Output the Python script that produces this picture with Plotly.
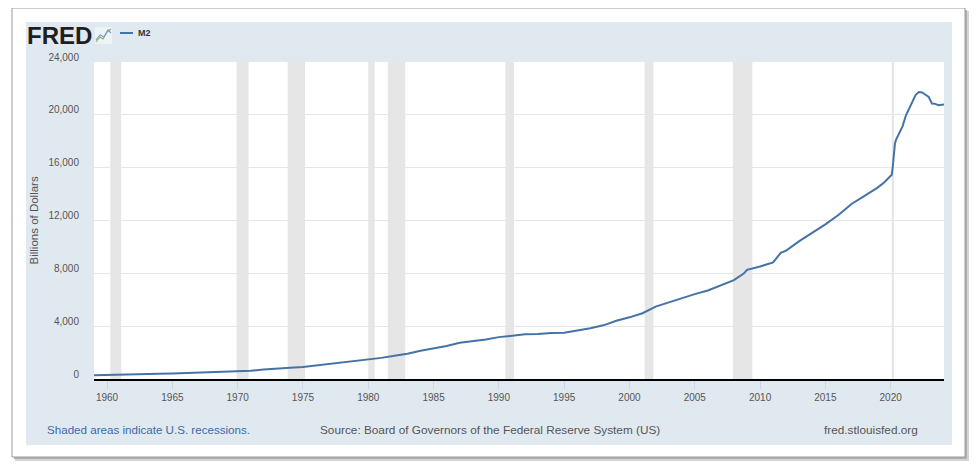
import plotly.graph_objects as go

# M2 money stock, billions of dollars
dates = [
    "1959-01-01", "1960-01-01", "1961-01-01", "1962-01-01", "1963-01-01",
    "1964-01-01", "1965-01-01", "1966-01-01", "1967-01-01", "1968-01-01",
    "1969-01-01", "1970-01-01", "1971-01-01", "1972-01-01", "1973-01-01",
    "1974-01-01", "1975-01-01", "1976-01-01", "1977-01-01", "1978-01-01",
    "1979-01-01", "1980-01-01", "1981-01-01", "1982-01-01", "1983-01-01",
    "1984-01-01", "1985-01-01", "1986-01-01", "1987-01-01", "1988-01-01",
    "1989-01-01", "1990-01-01", "1991-01-01", "1992-01-01", "1993-01-01",
    "1994-01-01", "1995-01-01", "1996-01-01", "1997-01-01", "1998-01-01",
    "1999-01-01", "2000-01-01", "2001-01-01", "2002-01-01", "2003-01-01",
    "2004-01-01", "2005-01-01", "2006-01-01", "2007-01-01", "2008-01-01",
    "2008-10-01", "2009-01-01", "2010-01-01", "2011-01-01", "2011-08-01",
    "2012-01-01", "2013-01-01", "2014-01-01", "2015-01-01", "2016-01-01",
    "2017-01-01", "2018-01-01", "2019-01-01", "2019-07-01", "2020-01-01",
    "2020-02-01", "2020-03-01", "2020-04-01", "2020-05-01", "2020-06-01",
    "2020-09-01", "2020-12-01", "2021-03-01", "2021-06-01", "2021-09-01",
    "2021-12-01", "2022-03-01", "2022-06-01", "2022-09-01", "2022-12-01",
    "2023-03-01", "2023-06-01", "2023-09-01", "2023-12-01", "2024-02-01",
]
m2 = [
    287, 298, 312, 336, 364,
    393, 425, 459, 480, 525,
    567, 588, 628, 710, 802,
    856, 906, 1016, 1152, 1272,
    1367, 1474, 1600, 1765, 1916,
    2131, 2313, 2501, 2737, 2842,
    2997, 3170, 3292, 3386, 3414,
    3492, 3503, 3664, 3841, 4062,
    4408, 4668, 4977, 5480, 5803,
    6084, 6424, 6703, 7093, 7488,
    7980, 8263, 8514, 8830, 9550,
    9723, 10434, 11047, 11711, 12413,
    13254, 13868, 14491, 14880, 15430,
    15470, 16100, 17100, 17850, 18120,
    18670, 19150, 19950, 20460, 20990,
    21520, 21730, 21690, 21520, 21350,
    20850, 20830, 20730, 20760, 20790,
]

# NBER recessions
rec_start = ["1960-04-01", "1969-12-01", "1973-11-01", "1980-01-01", "1981-07-01",
             "1990-07-01", "2001-03-01", "2007-12-01", "2020-02-01"]
rec_end = ["1961-02-01", "1970-11-01", "1975-03-01", "1980-07-01", "1982-11-01",
           "1991-03-01", "2001-11-01", "2009-06-01", "2020-04-01"]

y_ticks = [0, 4000, 8000, 12000, 16000, 20000, 24000]
x_ticks = [f"{y}-01-01" for y in range(1960, 2021, 5)]
x_labels = [str(y) for y in range(1960, 2021, 5)]

# the page puts the figure 8px in from the top-left corner of the window
OFF = 8
WIN_W, WIN_H = 978, 473
L, R, T, B = 94, 944, 62, 379
FONT = "Liberation Sans, Arial, sans-serif"


def px(x):
    return (x - L) / (R - L)


def py(y):
    return (B - y) / (B - T)


def box(x0, y0, x1, y1, fill, line=None, lw=0):
    return dict(type="rect", xref="paper", yref="paper", layer="below",
                x0=px(x0), x1=px(x1), y0=py(y1), y1=py(y0),
                fillcolor=fill, line=dict(color=line or fill, width=lw))


shapes = [
    box(15, 11, 969, 461, "#d4d4d4"),
    box(14, 10, 967, 459, "#b0b0b0"),
    box(12, 8, 965, 457, "#ffffff", "#9a9a9a", 1),
    box(26, 22, 952, 445, "#e1e9f0"),
    box(L, T, R, B, "#ffffff"),
]
for s, e in zip(rec_start, rec_end):
    shapes.append(dict(type="rect", xref="x", yref="paper", layer="below",
                       x0=s, x1=e, y0=0, y1=1, fillcolor="#e6e6e6",
                       line=dict(width=0)))

# little FRED chart icon
shapes.append(box(95, 27, 112, 44, "#eef3f7"))
shapes.append(dict(type="path", xref="paper", yref="paper",
                   path=f"M {px(96)},{py(42)} L {px(100)},{py(37)} L {px(103)},{py(39)} "
                        f"L {px(107)},{py(32)} L {px(111)},{py(29)}",
                   line=dict(color="#8fb35a", width=1.2)))
shapes.append(dict(type="path", xref="paper", yref="paper",
                   path=f"M {px(96)},{py(40)} L {px(100)},{py(35)} L {px(104)},{py(37)} "
                        f"L {px(108)},{py(30)} L {px(111)},{py(33)}",
                   line=dict(color="#7a9cc4", width=1.2)))
# legend swatch
shapes.append(dict(type="line", xref="paper", yref="paper",
                   x0=px(120), x1=px(133), y0=py(33), y1=py(33),
                   line=dict(color="#4572a7", width=2)))

annotations = [
    dict(text="<b>FRED</b>", x=px(25), y=py(35), xanchor="left", yanchor="middle",
         font=dict(family=FONT, size=24, color="#1f1f1f")),
    dict(text="<b>M2</b>", x=px(136), y=py(33), xanchor="left", yanchor="middle",
         font=dict(family=FONT, size=9, color="#333333")),
    dict(text="Billions of Dollars", x=px(33), y=0.5, textangle=-90,
         xanchor="center", yanchor="middle",
         font=dict(family=FONT, size=11.5, color="#555555")),
    dict(text="Shaded areas indicate U.S. recessions.", x=px(45), y=py(430),
         xanchor="left", yanchor="middle",
         font=dict(family=FONT, size=11.6, color="#3c6aa5")),
    dict(text="Source: Board of Governors of the Federal Reserve System (US)",
         x=px(318), y=py(430), xanchor="left", yanchor="middle",
         font=dict(family=FONT, size=11.8, color="#555555")),
    dict(text="fred.stlouisfed.org", x=px(920), y=py(430),
         xanchor="right", yanchor="middle",
         font=dict(family=FONT, size=11.8, color="#555555")),
]
for a in annotations:
    a.update(xref="paper", yref="paper", showarrow=False)

fig = go.Figure(
    go.Scatter(x=dates, y=m2, mode="lines", name="M2",
               line=dict(color="#4572a7", width=2), showlegend=False)
)

fig.update_layout(
    width=WIN_W - OFF, height=WIN_H - OFF,
    margin=dict(l=L - OFF, r=WIN_W - R, t=T - OFF, b=WIN_H - B),
    paper_bgcolor="#ffffff",
    plot_bgcolor="rgba(0,0,0,0)",
    font=dict(family=FONT, color="#555555"),
    shapes=shapes,
    annotations=annotations,
    xaxis=dict(
        type="date", range=["1959-01-01", "2024-02-01"],
        tickvals=x_ticks, ticktext=x_labels,
        ticks="outside", ticklen=8, tickcolor="#ccd6eb", tickwidth=1,
        showgrid=False, showline=True, linecolor="#000000", linewidth=2,
        tickfont=dict(size=10, color="#555555"), zeroline=False,
    ),
    yaxis=dict(
        range=[0, 24000], tickvals=y_ticks, tickformat=",",
        showgrid=True, gridcolor="#e6e6e6", gridwidth=1,
        zeroline=False, showline=False,
        ticks="outside", ticklen=12, tickcolor="rgba(0,0,0,0)",
        ticklabelshift=-5,
        tickfont=dict(size=10, color="#555555"),
    ),
)

fig.write_html("out.html")
